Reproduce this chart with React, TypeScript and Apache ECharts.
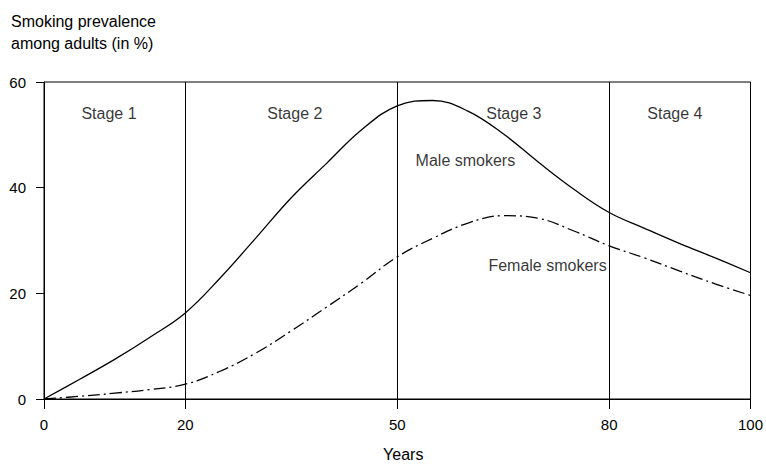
import React, { useEffect, useRef } from "react";
import * as echarts from "echarts";

const xTickValues = [0, 20, 50, 80, 100];
const yTickValues = [0, 20, 40, 60];
const stageBoundaries = [20, 50, 80];

const years = [0, 5, 10, 15, 20, 25, 30, 35, 40, 45, 50, 55, 60, 65, 70, 75, 80, 85, 90, 95, 100];
const maleSmokers = [0, 3.7, 7.5, 11.7, 16.3, 23.0, 30.5, 38.1, 44.6, 51.0, 55.5, 56.5, 54.5, 50.2, 44.8, 39.7, 35.3, 32.3, 29.4, 26.7, 23.9];
const femaleSmokers = [0, 0.5, 1.1, 1.8, 2.8, 5.3, 8.7, 12.9, 17.4, 22.0, 26.9, 30.4, 33.3, 34.7, 34.2, 31.8, 29.0, 26.7, 24.2, 21.8, 19.6];

const stageNames = ["Stage 1", "Stage 2", "Stage 3", "Stage 4"];
const stageCenters = [9.2, 35.5, 66.5, 89.3];
const stageLabelY = 54.1;

const seriesNames = ["Male smokers", "Female smokers"];
const seriesLabelAt = [
  [52.6, 45.2],
  [62.9, 25.3],
];

const FONT = "'Liberation Sans', Arial, sans-serif";

export default function App() {
  const ref = useRef<HTMLDivElement>(null);
  useEffect(() => {
    if (!ref.current) return;
    const chart = echarts.init(ref.current, undefined, { renderer: "svg", width: 766, height: 467 });
    const textStyle = { color: "#000", fontFamily: FONT, fontSize: 16 };
    chart.setOption({
      animation: false,
      backgroundColor: "#fff",
      textStyle: { fontFamily: FONT },
      grid: {
        left: 44, top: 82, width: 710, height: 323,
        show: true, borderColor: "#000", borderWidth: 1,
      },
      graphic: [
        {
          type: "text",
          left: 11,
          top: 10,
          style: {
            text: "Smoking prevalence\namong adults (in %)",
            font: `16px ${FONT}`,
            lineHeight: 22,
            fill: "#000",
          },
        },
      ],
      xAxis: {
        type: "value",
        min: 0,
        max: 100,
        interval: 10,
        name: "Years",
        nameLocation: "middle",
        nameGap: 47,
        nameTextStyle: { ...textStyle, padding: [0, 0, 0, 12] },
        axisLine: { show: true, onZero: false, lineStyle: { color: "#000", width: 1 } },
        axisTick: {
          show: true, length: 10, customValues: xTickValues,
          lineStyle: { color: "#000", width: 1 },
        },
        axisLabel: {
          customValues: xTickValues, margin: 18,
          color: "#000", fontFamily: FONT, fontSize: 15,
        },
        splitLine: { show: false },
      },
      yAxis: {
        type: "value",
        min: 0,
        max: 60,
        interval: 20,
        axisLine: { show: true, lineStyle: { color: "#000", width: 1 } },
        axisTick: {
          show: true, length: 8, customValues: yTickValues,
          lineStyle: { color: "#000", width: 1 },
        },
        axisLabel: {
          customValues: yTickValues, margin: 18,
          color: "#000", fontFamily: FONT, fontSize: 15,
        },
        splitLine: { show: false },
      },
      series: [
        {
          name: seriesNames[0],
          type: "line",
          data: years.map((x, i) => [x, maleSmokers[i]]),
          smooth: 0.4,
          showSymbol: false,
          silent: true,
          lineStyle: { color: "#000", width: 1.3 },
          markLine: {
            silent: true,
            symbol: "none",
            label: { show: false },
            lineStyle: { color: "#000", width: 1, type: "solid" },
            data: stageBoundaries.map((v) => ({ xAxis: v })),
          },
          z: 3,
        },
        {
          name: seriesNames[1],
          type: "line",
          data: years.map((x, i) => [x, femaleSmokers[i]]),
          smooth: 0.4,
          showSymbol: false,
          silent: true,
          lineStyle: { color: "#000", width: 1.3, type: [12, 4, 2, 4] },
          z: 3,
        },
        {
          type: "scatter",
          silent: true,
          symbolSize: 0,
          data: stageNames.map((n, i) => ({ name: n, value: [stageCenters[i], stageLabelY] })),
          label: {
            show: true, position: "inside", formatter: "{b}", ...textStyle,
          },
        },
        {
          type: "scatter",
          silent: true,
          symbolSize: 0,
          data: seriesNames.map((n, i) => ({ name: n, value: seriesLabelAt[i] })),
          label: {
            show: true, position: "right", distance: 0, formatter: "{b}", ...textStyle,
          },
        },
      ],
    });
    return () => chart.dispose();
  }, []);
  return (
    <div
      ref={ref}
      style={{ position: "fixed", left: 0, top: 0, width: 766, height: 467, background: "#fff" }}
    />
  );
}
